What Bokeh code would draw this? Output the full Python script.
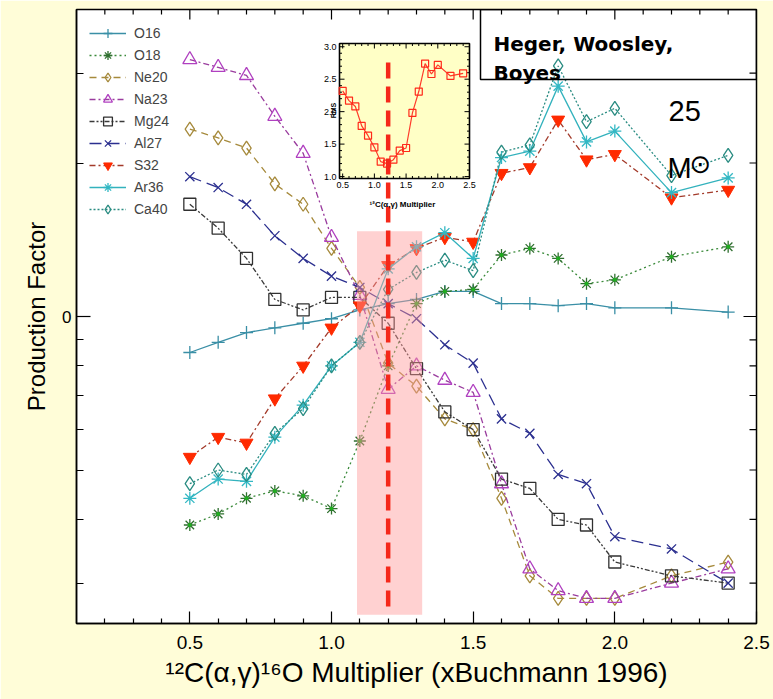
import math

from bokeh.core.properties import value
from bokeh.embed import file_html
from bokeh.models import (BoxAnnotation, ColumnDataSource, FixedTicker, Label,
                          Legend, LegendItem, LinearScale, Range1d)
from bokeh.plotting import figure
from bokeh.resources import INLINE

# ---------------------------------------------------------------- data
multiplier = [0.5, 0.6, 0.7, 0.8, 0.9, 1.0, 1.1, 1.2, 1.3, 1.4,
              1.5, 1.6, 1.7, 1.8, 1.9, 2.0, 2.2, 2.4]

o16 = [0.85, 0.89, 0.93, 0.95, 0.97, 0.99, 1.03, 1.06, 1.08, 1.12,
       1.12, 1.06, 1.06, 1.05, 1.06, 1.04, 1.04, 1.02]
o18 = [0.39, 0.41, 0.44, 0.455, 0.445, 0.42, 0.57, 0.80, 1.06, 1.12,
       1.13, 1.32, 1.36, 1.30, 1.16, 1.18, 1.31, 1.37]
ne20 = [2.33, 2.24, 2.14, 1.82, 1.66, 1.36, 1.14, 0.81, 0.73, 0.63,
        0.60, 0.44, 0.31, 0.28, 0.28, 0.28, 0.31, 0.33]
na23 = [3.19, 3.08, 2.97, 2.47, 2.09, 1.43, 1.10, 0.72, 0.80, 0.75,
        0.71, 0.47, 0.32, 0.29, 0.28, 0.28, 0.30, 0.32]
mg24 = [1.66, 1.49, 1.30, 1.08, 1.03, 1.09, 1.09, 0.97, 0.79, 0.65,
        0.60, 0.48, 0.46, 0.40, 0.39, 0.33, 0.31, 0.30]
al27 = [1.88, 1.79, 1.66, 1.44, 1.30, 1.20, 1.14, 1.06, 0.99, 0.88,
        0.81, 0.63, 0.59, 0.49, 0.47, 0.37, 0.35, 0.30]
s32 = [0.53, 0.58, 0.565, 0.69, 0.80, 0.95, 1.05, 1.26, 1.36, 1.43,
       1.40, 1.91, 1.96, 2.43, 2.03, 2.08, 1.71, 1.77]
ar36 = [0.44, 0.48, 0.475, 0.58, 0.67, 0.80, 0.89, 1.24, 1.37, 1.46,
        1.30, 2.05, 2.11, 2.83, 2.20, 2.31, 1.75, 1.87]
ca40 = [0.47, 0.50, 0.49, 0.59, 0.66, 0.80, 0.89, 1.13, 1.22, 1.29,
        1.23, 2.10, 2.17, 3.10, 2.41, 2.56, 1.89, 2.07]

# RMS deviation of the production factors (inset)
rms = [2.32, 2.17, 2.08, 1.78, 1.63, 1.45, 1.23, 1.20, 1.26, 1.40,
       1.44, 1.98, 2.31, 2.74, 2.58, 2.72, 2.55, 2.59]

best_multiplier = 1.2
best_line_factor = [0.27, 3.18]          # vertical extent of the best-fit marker line
band_multiplier = [1.09, 1.32]           # allowed range of the rate multiplier
band_factor = [0.26, 1.47]

x_ticks = [0.5, 1.0, 1.5, 2.0, 2.5]
x_tick_labels = ["0.5", "1.0", "1.5", "2.0", "2.5"]
x_minor = [0.2, 0.3, 0.4, 0.6, 0.7, 0.8, 0.9, 1.1, 1.2, 1.3, 1.4, 1.6, 1.7,
           1.8, 1.9, 2.1, 2.2, 2.3, 2.4]
y_ticks = [1.0]
y_tick_labels = ["0"]
y_minor = [0.3, 0.4, 0.5, 0.6, 0.7, 0.8, 0.9, 2.0, 3.0]

inset_x_domain = [0.45, 2.5]
inset_y_domain = [0.97, 3.05]
inset_x_ticks = [0.5, 1.0, 1.5, 2.0, 2.5]
inset_x_tick_labels = ["0.5", "1.0", "1.5", "2.0", "2.5"]
inset_x_minor = [0.6, 0.7, 0.8, 0.9, 1.1, 1.2, 1.3, 1.4, 1.6, 1.7, 1.8, 1.9,
                 2.1, 2.2, 2.3, 2.4]
inset_y_ticks = [1.0, 1.5, 2.0, 2.5, 3.0]
inset_y_tick_labels = ["1.0", "1.5", "2.0", "2.5", "3.0"]
inset_y_minor = [1.1, 1.2, 1.3, 1.4, 1.6, 1.7, 1.8, 1.9, 2.1, 2.2, 2.3, 2.4,
                 2.6, 2.7, 2.8, 2.9]

# ---------------------------------------------------------------- layout
W, H = 773, 699
FRAME_L, FRAME_R, FRAME_T, FRAME_B = 76, 756, 9, 623
CREAM = "#fffdd8"
SANS = "Liberation Sans"
X_RANGE = (0.1, 2.5)
Y_RANGE = (0.25, 4.0)


def sx(px):
    """canvas x -> frame-relative screen x"""
    return px - FRAME_L


def sy(py):
    """canvas y -> frame-relative screen y (upwards)"""
    return FRAME_B - py


def host_range(lo, hi, p_lo, p_hi, f_lo, f_hi):
    """Range spanning the frame [f_lo, f_hi] so that [lo, hi] falls on [p_lo, p_hi]."""
    per_px = (hi - lo) / (p_hi - p_lo)
    return Range1d(lo - (p_lo - f_lo) * per_px, hi + (f_hi - p_hi) * per_px)


p = figure(width=W, height=H,
           x_range=Range1d(*X_RANGE), y_range=Range1d(*Y_RANGE),
           y_axis_type="log",
           output_backend="svg", toolbar_location=None,
           min_border_left=FRAME_L, min_border_right=W - FRAME_R,
           min_border_top=FRAME_T, min_border_bottom=H - FRAME_B,
           background_fill_color="white", border_fill_color=CREAM)
p.outline_line_color = "black"
p.outline_line_width = 1.5
p.xgrid.visible = False
p.ygrid.visible = False


def style_axis(ax, major_in, minor_in):
    ax.axis_line_color = "black"
    ax.axis_line_width = 1.5
    ax.major_tick_line_color = "black"
    ax.minor_tick_line_color = "black"
    ax.major_tick_line_width = 1.2
    ax.minor_tick_line_width = 1.2
    ax.major_tick_in = major_in
    ax.major_tick_out = 0
    ax.minor_tick_in = minor_in
    ax.minor_tick_out = 0


xa = p.xaxis[0]
xa.ticker = FixedTicker(ticks=x_ticks, minor_ticks=x_minor)
xa.major_label_overrides = dict(zip(x_ticks, x_tick_labels))
xa.major_label_text_font = SANS
xa.major_label_text_font_size = "19px"
xa.major_label_text_color = "black"
xa.major_label_standoff = 12
xa.axis_label = "\u00b9\u00b2C(\u03b1,\u03b3)\u00b9\u2076O Multiplier (xBuchmann 1996)"
xa.axis_label_text_font = SANS
xa.axis_label_text_font_size = "28px"
xa.axis_label_text_font_style = "normal"
xa.axis_label_text_color = "black"
xa.axis_label_standoff = 5
style_axis(xa, 12, 5)

ya = p.yaxis[0]
ya.ticker = FixedTicker(ticks=y_ticks, minor_ticks=y_minor)
ya.major_label_overrides = dict(zip(y_ticks, y_tick_labels))
ya.major_label_text_font = SANS
ya.major_label_text_font_size = "17px"
ya.major_label_text_color = "black"
ya.major_label_standoff = 5
ya.major_label_orientation = "horizontal"
ya.axis_label = "Production Factor"
ya.axis_label_text_font = SANS
ya.axis_label_text_font_size = "24px"
ya.axis_label_text_font_style = "normal"
ya.axis_label_text_color = "black"
ya.axis_label_standoff = 9
style_axis(ya, 14, 7)

# tick marks mirrored on the top and right edges of the frame
edge = dict(line_color="black", line_width=1.2, length_units="screen")
p.ray(x=x_ticks, y=[Y_RANGE[1]] * len(x_ticks), length=10, angle=-math.pi / 2, **edge)
p.ray(x=x_minor, y=[Y_RANGE[1]] * len(x_minor), length=5, angle=-math.pi / 2, **edge)
p.ray(x=[X_RANGE[1]] * len(y_ticks), y=y_ticks, length=13, angle=math.pi, **edge)
p.ray(x=[X_RANGE[1]] * len(y_minor), y=y_minor, length=7, angle=math.pi, **edge)

# ---------------------------------------------------------------- series
series = [
    ("O16", o16, dict(color="#3a8fa6", dash="solid", marker="cross", mcolor="#3a8fa6", size=13)),
    ("O18", o18, dict(color="#3a8a3a", dash="2 3", marker="asterisk", mcolor="#2f6f2f", size=12, dot="#1fae1f")),
    ("Ne20", ne20, dict(color="#a68a3c", dash="7 5", marker="diamond", mcolor="#a68a3c", size=14)),
    ("Na23", na23, dict(color="#9a3c9e", dash="6 3 2 3", marker="triangle", mcolor="#b040c0", size=14)),
    ("Mg24", mg24, dict(color="#3a3a3a", dash="5 2 2 2 2 2", marker="square", mcolor="#303030", size=12)),
    ("Al27", al27, dict(color="#2b2f8f", dash="12 6", marker="x", mcolor="#2b2f8f", size=13)),
    ("S32", s32, dict(color="#a33a2a", dash="6 3 2 3", marker="inverted_triangle", mcolor="#ff2a00", size=13, filled=True)),
    ("Ar36", ar36, dict(color="#33b2bd", dash="solid", marker="asterisk", mcolor="#33b8c4", size=13)),
    ("Ca40", ca40, dict(color="#2a8c82", dash="2 2", marker="diamond", mcolor="#2a8c82", size=14)),
]

items = []
for name, vals, st in series:
    src = ColumnDataSource(dict(x=multiplier, y=vals))
    rs = [p.line("x", "y", source=src, line_color=st["color"],
                 line_dash=st["dash"], line_width=1.3)]
    if st.get("filled"):
        rs.append(p.scatter("x", "y", source=src, marker=st["marker"], size=st["size"],
                            fill_color=st["mcolor"], line_color=st["mcolor"]))
    else:
        rs.append(p.scatter("x", "y", source=src, marker=st["marker"], size=st["size"],
                            fill_alpha=0, line_color=st["mcolor"], line_width=1.3))
    if "dot" in st:
        p.scatter("x", "y", source=src, marker="circle", size=4,
                  fill_color=st["dot"], line_color=None)
    items.append(LegendItem(label=name, renderers=rs))

# allowed range of the multiplier, then the best-fit line on top of it
p.quad(left=[band_multiplier[0]], right=[band_multiplier[1]],
       bottom=[band_factor[0]], top=[band_factor[1]],
       fill_color="#ff9a9a", fill_alpha=0.45, line_color=None)

# ---------------------------------------------------------------- inset (RMS)
INSET_L, INSET_R, INSET_T, INSET_B = 339, 469, 43, 178
p.extra_x_ranges = {"ix": host_range(inset_x_domain[0], inset_x_domain[1],
                                     INSET_L, INSET_R, FRAME_L, FRAME_R)}
p.extra_y_ranges = {"iy": host_range(inset_y_domain[0], inset_y_domain[1],
                                     sy(INSET_B), sy(INSET_T), 0, sy(FRAME_T))}
p.extra_x_scales = {"ix": LinearScale()}
p.extra_y_scales = {"iy": LinearScale()}
ins = dict(x_range_name="ix", y_range_name="iy")

p.quad(left=[inset_x_domain[0]], right=[inset_x_domain[1]],
       bottom=[inset_y_domain[0]], top=[inset_y_domain[1]],
       fill_color="#ffffc6", line_color="black", line_width=1.6, **ins)

tick_style = dict(line_color="black", line_width=1, length_units="screen", **ins)
for xs, ln in ((inset_x_ticks, 5), (inset_x_minor, 2.5)):
    p.ray(x=xs, y=[inset_y_domain[0]] * len(xs), length=ln, angle=math.pi / 2, **tick_style)
    p.ray(x=xs, y=[inset_y_domain[1]] * len(xs), length=ln, angle=-math.pi / 2, **tick_style)
for ys, ln in ((inset_y_ticks, 5), (inset_y_minor, 2.5)):
    p.ray(x=[inset_x_domain[0]] * len(ys), y=ys, length=ln, angle=0, **tick_style)
    p.ray(x=[inset_x_domain[1]] * len(ys), y=ys, length=ln, angle=math.pi, **tick_style)

p.text(x=inset_x_ticks, y=[inset_y_domain[0]] * len(inset_x_ticks), text=inset_x_tick_labels,
       y_offset=3, text_align="center", text_baseline="top",
       text_font=value(SANS), text_font_size="9px", text_color="black", **ins)
p.text(x=[inset_x_domain[0]] * len(inset_y_ticks), y=inset_y_ticks, text=inset_y_tick_labels,
       x_offset=-3, text_align="right", text_baseline="middle",
       text_font=value(SANS), text_font_size="9px", text_color="black", **ins)

rms_src = ColumnDataSource(dict(x=multiplier, y=rms))
p.line("x", "y", source=rms_src, line_color="#ff3b2a", line_width=1.2, **ins)
p.scatter("x", "y", source=rms_src, marker="square", size=7, fill_alpha=0,
          line_color="#ff2a1a", line_width=1.2, **ins)

p.segment(x0=[best_multiplier], x1=[best_multiplier],
          y0=[best_line_factor[0]], y1=[best_line_factor[1]],
          line_color="#f5281a", line_width=4.5, line_dash="16 8")

# ---------------------------------------------------------------- legend
legend = Legend(items=items, location="top_left", margin=6, padding=7, spacing=0,
                glyph_width=37, glyph_height=22, label_height=22, label_standoff=8,
                label_text_font=SANS, label_text_font_size="14px",
                background_fill_alpha=0, border_line_alpha=0)
p.add_layout(legend)

# ---------------------------------------------------------------- texts
def label(text, px, py, size, font=SANS, style="normal", align="left",
          baseline="alphabetic", angle=0.0):
    p.add_layout(Label(x=sx(px), y=sy(py), x_units="screen", y_units="screen",
                       text=text, text_font=font, text_font_size=size,
                       text_font_style=style, text_align=align,
                       text_baseline=baseline, angle=angle, text_color="black"))


p.add_layout(BoxAnnotation(left=sx(480), right=sx(FRAME_R), top=sy(FRAME_T), bottom=sy(79),
                           left_units="screen", right_units="screen",
                           top_units="screen", bottom_units="screen",
                           fill_alpha=0, line_color="black", line_alpha=1.0,
                           line_width=1.5))
label("Heger, Woosley,", 493, 43, "20px", font="DejaVu Sans", style="bold")
label("Boyes", 493, 72, "20px", font="DejaVu Sans", style="bold")
label("25", 668, 110, "29px")
label("M", 667, 167, "29px")
label("\u2299", 689, 163, "26px", font="DejaVu Sans", baseline="middle")

label("RMS", 333, 110, "7px", style="bold", align="center", baseline="middle",
      angle=math.pi / 2)
label("\u00b9\u00b2C(\u03b1,\u03b3) Multiplier", 402, 204, "8px", style="bold",
      align="center", baseline="middle")

open("out.html", "w").write(file_html(p, INLINE))
